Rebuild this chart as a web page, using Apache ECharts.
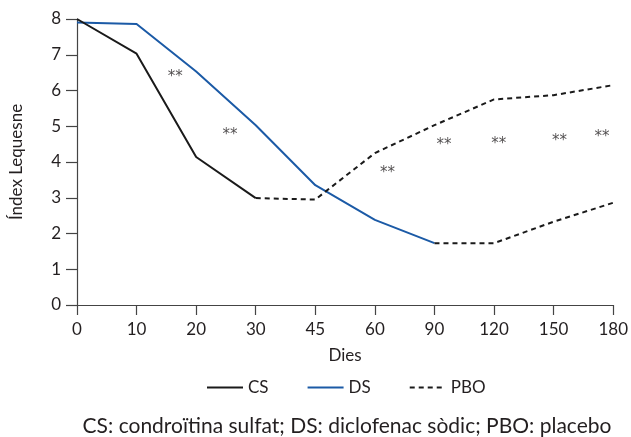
<!DOCTYPE html>
<html><head><meta charset="utf-8">
<script src="https://cdn.jsdelivr.net/npm/echarts@6/dist/echarts.min.js"></script>
<style>html,body{margin:0;padding:0;background:#fff}#c{width:631px;height:437px}</style>
</head><body><div id="c"></div>
<script>
var days = ['0','10','20','30','45','60','90','120','150','180'];
var csValues = [8, 7.03, 4.14, 2.99];
var pboAfterCs = [null, null, null, 2.99, 2.95, 4.25, 5.03, 5.75, 5.87, 6.15];
var dsValues = [7.9, 7.86, 6.53, 5.03, 3.35, 2.38, 1.73];
var pboAfterDs = [null, null, null, null, null, null, 1.73, 1.73, 2.33, 2.86];
var starPositions = [[1.65, 6.38], [2.57, 4.76], [5.21, 3.69], [6.16, 4.48], [7.08, 4.5], [8.1, 4.59], [8.81, 4.7]];
var yTicks = [0,1,2,3,4,5,6,7,8];

function pairs(arr){ var out=[]; arr.forEach(function(v,i){ out.push([i, v]); }); return out; }

var font = 'Lato';
var textColor = '#231f20';
var axisColor = '#444';
var chart = echarts.init(document.getElementById('c'));
chart.setOption({
  animation: false,
  textStyle: {fontFamily: font},
  grid: {left: 76, right: 16, top: 19, bottom: 132, containLabel: false},
  xAxis: {
    type: 'value', min: 0, max: days.length - 1, interval: 1,
    name: 'Dies', nameLocation: 'middle', nameGap: 42,
    nameTextStyle: {fontSize: 17, color: textColor, fontFamily: font},
    axisLine: {show: true, lineStyle: {color: axisColor, width: 1.2}},
    axisTick: {show: true, length: 10, lineStyle: {color: axisColor, width: 1.2}},
    axisLabel: {fontSize: 17, color: textColor, margin: 16, fontFamily: font, formatter: function(v){ return days[v]; }},
    splitLine: {show: false}
  },
  yAxis: {
    type: 'value', min: yTicks[0], max: yTicks[yTicks.length-1], interval: 1,
    name: 'Índex Lequesne', nameLocation: 'middle', nameGap: 52, nameRotate: 90,
    nameTextStyle: {fontSize: 17, color: textColor, fontFamily: font},
    axisLine: {show: true, lineStyle: {color: axisColor, width: 1.2}},
    axisTick: {show: true, length: 11, lineStyle: {color: axisColor, width: 1.2}},
    axisLabel: {fontSize: 17, color: textColor, margin: 16, fontFamily: font},
    splitLine: {show: false}
  },
  legend: {
    top: 374, left: 201, itemWidth: 36, itemHeight: 12, itemGap: 38,
    itemStyle: {opacity: 0},
    textStyle: {fontSize: 17, color: textColor, fontFamily: font},
    data: ['CS', 'DS', 'PBO']
  },
  graphic: [{
    type: 'text', x: 347, y: 426,
    style: {text: 'CS: condroïtina sulfat; DS: diclofenac sòdic; PBO: placebo', fontSize: 21, fill: textColor, fontFamily: font, textAlign: 'center', textVerticalAlign: 'middle'}
  }],
  series: [
    {name: 'CS', type: 'line', data: pairs(csValues), symbol: 'none', lineStyle: {color: '#1a1a1a', width: 2}, itemStyle: {color: '#1a1a1a'}, z: 3},
    {name: 'PBO', type: 'line', data: pairs(pboAfterCs), symbol: 'none', lineStyle: {color: '#1a1a1a', width: 2, type: [5, 4]}, itemStyle: {color: '#1a1a1a'}},
    {name: 'DS', type: 'line', data: pairs(dsValues), symbol: 'none', lineStyle: {color: '#1b5aa6', width: 2}, itemStyle: {color: '#1b5aa6'}, z: 2},
    {name: 'PBO', type: 'line', data: pairs(pboAfterDs), symbol: 'none', lineStyle: {color: '#1a1a1a', width: 2, type: [5, 4]}, itemStyle: {color: '#1a1a1a'}},
    {name: 'stars', type: 'scatter', data: starPositions, symbolSize: 0, silent: true,
     label: {show: true, formatter: '**', position: 'inside', fontSize: 15, color: textColor, fontFamily: 'DejaVu Sans'}}
  ]
});
</script></body></html>
